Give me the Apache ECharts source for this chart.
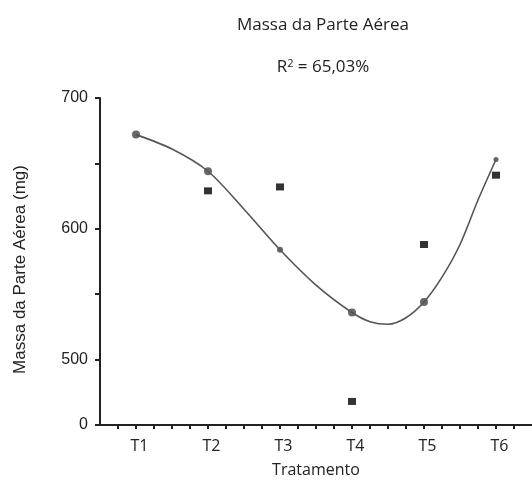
<!DOCTYPE html>
<html>
<head>
<meta charset="utf-8">
<script src="https://cdn.jsdelivr.net/npm/echarts@6/dist/echarts.min.js"></script>
<style>html,body{margin:0;padding:0;background:#fff}#c{width:532px;height:482px}</style>
</head>
<body>
<div id="c"></div>
<script>
// Data
var categories = ['T1', 'T2', 'T3', 'T4', 'T5', 'T6'];
var observed = [null, 629, 632, 468, 588, 641];   // black squares
var fitted = [672, 644, 584, 536, 544, 653];       // markers on the fitted curve
// fitted curve (x in treatment units, y in mg)
var curveX = [1, 1.5, 2, 2.5, 3, 3.5, 4, 4.25, 4.5, 4.75, 5, 5.25, 5.5, 5.75, 6];
var curveY = [672, 661, 644, 615, 584, 557, 536, 529, 527, 532, 544, 563, 588, 622, 653];
var yTickLabels = {700: '700', 600: '600', 500: '500', 450: '0'};

var obsData = [], fitData = [], curveData = [];
categories.forEach(function (c, i) {
  if (observed[i] !== null) obsData.push([i + 1, observed[i]]);
  fitData.push([i + 1, fitted[i]]);
});
curveX.forEach(function (x, i) { curveData.push([x, curveY[i]]); });

var font = 'Liberation Sans';
var chart = echarts.init(document.getElementById('c'));
chart.setOption({
  animation: false,
  backgroundColor: '#fff',
  title: [
    {text: 'Massa da Parte Aérea', left: 318, top: 12, textAlign: 'center',
     textStyle: {fontFamily: 'Open Sans', fontSize: 17, fontWeight: 'normal', color: '#222'}},
    {text: 'R{s|2} = 65,03%', left: 318, top: 53, textAlign: 'center',
     textStyle: {fontFamily: 'Open Sans', fontSize: 17, fontWeight: 'normal', color: '#222',
       rich: {s: {fontFamily: 'Open Sans', fontSize: 11, verticalAlign: 'top', color: '#222', padding: [0, 0, 7, 0]}}}}
  ],
  grid: {left: 100, right: 0, top: 98, bottom: 57, containLabel: false, outerBoundsMode: 'none'},
  xAxis: {
    type: 'value', min: 0.5, max: 6.5, interval: 0.25,
    name: 'Tratamento', nameLocation: 'middle', nameGap: 37,
    nameTextStyle: {fontFamily: 'Open Sans', fontSize: 16, color: '#222'},
    axisLine: {lineStyle: {color: '#222', width: 2}},
    axisTick: {show: true, length: 4, lineStyle: {color: '#222', width: 2}},
    splitLine: {show: false},
    axisLabel: {
      showMinLabel: false, showMaxLabel: false,
      fontFamily: 'Open Sans', fontSize: 16, color: '#222', margin: 13,
      padding: [0, 0, 0, 7],
      formatter: function (v) {
        return (Math.abs(v - Math.round(v)) < 1e-6 && v >= 1 && v <= 6) ? categories[Math.round(v) - 1] : '';
      }
    }
  },
  yAxis: {
    type: 'value', min: 450, max: 700, interval: 50,
    name: 'Massa da Parte Aérea (mg)', nameLocation: 'middle', nameGap: 71, nameRotate: 90,
    nameTextStyle: {fontFamily: font, fontSize: 17, color: '#222', padding: [0, 16, 0, 0]},
    axisLine: {show: true, lineStyle: {color: '#222', width: 2}},
    axisTick: {show: true, length: 5, lineStyle: {color: '#222', width: 2}},
    splitLine: {show: false},
    axisLabel: {
      fontFamily: font, fontSize: 16, color: '#222', margin: 12,
      formatter: function (v) { return yTickLabels[v] || ''; }
    }
  },
  series: [
    {
      type: 'line', data: curveData, smooth: 0.3, showSymbol: false,
      lineStyle: {color: '#555', width: 1.6}
    },
    {
      type: 'scatter', data: fitData,
      symbol: 'circle',
      symbolSize: function (v) { return v[0] === 3 ? 6 : (v[0] === 6 ? 5 : 8); },
      itemStyle: {color: '#444'}
    },
    {
      type: 'scatter', data: obsData,
      symbol: 'rect', symbolSize: [8, 7],
      itemStyle: {color: '#000'}
    }
  ]
});
</script>
</body>
</html>
